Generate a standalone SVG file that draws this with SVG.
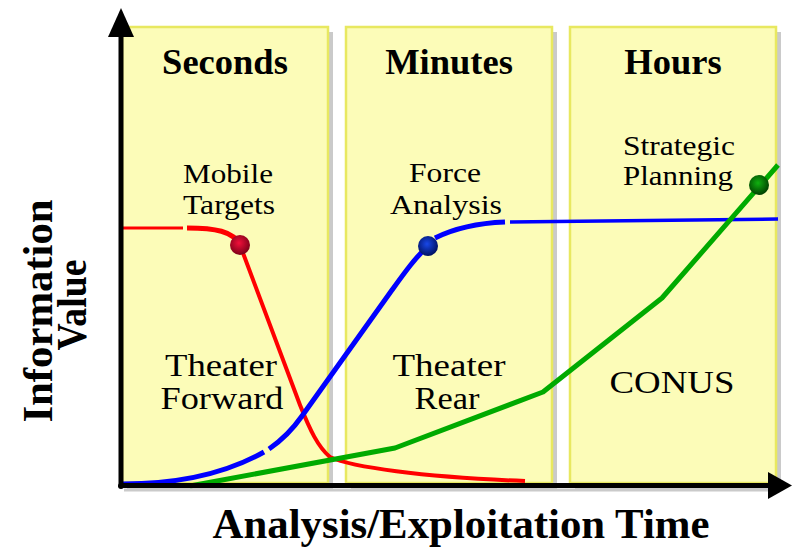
<svg xmlns="http://www.w3.org/2000/svg" width="792" height="548" viewBox="0 0 792 548">
<style>
.panel{fill:#FCFCB8;stroke:#E8E860;stroke-width:2.5}
.shadow{fill:#CACACA}
.head{font-family:"Liberation Serif","Times New Roman",serif;font-weight:bold;font-size:36.5px;text-anchor:middle;fill:#000}
.lbl{font-family:"Liberation Serif","Times New Roman",serif;font-size:28px;text-anchor:middle;fill:#000}
.big{font-family:"Liberation Serif","Times New Roman",serif;font-size:31px;text-anchor:middle;fill:#000}
.axis{font-family:"Liberation Serif","Times New Roman",serif;font-weight:bold;font-size:42px;text-anchor:middle;fill:#000}
.curve{fill:none;stroke-linecap:butt;stroke-linejoin:round}
</style>
<defs>
<radialGradient id="gr" cx="45%" cy="40%" r="60%"><stop offset="0" stop-color="#F0103A"/><stop offset="1" stop-color="#7A0018"/></radialGradient>
<radialGradient id="gb" cx="45%" cy="40%" r="60%"><stop offset="0" stop-color="#1848E8"/><stop offset="1" stop-color="#001060"/></radialGradient>
<radialGradient id="gg" cx="45%" cy="40%" r="60%"><stop offset="0" stop-color="#10B010"/><stop offset="1" stop-color="#004000"/></radialGradient>
</defs>
<rect width="792" height="548" fill="#fff"/>
<g id="panel-seconds">
<rect class="shadow" x="127" y="32" width="206" height="457"/>
<rect class="panel" x="122" y="27" width="206" height="456"/>
<text class="head" x="225" y="74">Seconds</text>
</g>
<g id="panel-minutes">
<rect class="shadow" x="351" y="32" width="206" height="457"/>
<rect class="panel" x="346" y="27" width="206" height="456"/>
<text class="head" x="449" y="74">Minutes</text>
</g>
<g id="panel-hours">
<rect class="shadow" x="575" y="32" width="206" height="457"/>
<rect class="panel" x="570" y="27" width="206" height="456"/>
<text class="head" x="673" y="74">Hours</text>
</g>
<g id="labels">
<text class="lbl" x="228" y="183" textLength="90" lengthAdjust="spacingAndGlyphs">Mobile</text>
<text class="lbl" x="229" y="214" textLength="92" lengthAdjust="spacingAndGlyphs">Targets</text>
<text class="lbl" x="445" y="182" textLength="72" lengthAdjust="spacingAndGlyphs">Force</text>
<text class="lbl" x="446" y="214" textLength="112" lengthAdjust="spacingAndGlyphs">Analysis</text>
<text class="lbl" x="679" y="155" textLength="112" lengthAdjust="spacingAndGlyphs">Strategic</text>
<text class="lbl" x="678" y="185" textLength="110" lengthAdjust="spacingAndGlyphs">Planning</text>
<text class="big" x="221" y="376" textLength="112" lengthAdjust="spacingAndGlyphs">Theater</text>
<text class="big" x="222" y="409" textLength="123" lengthAdjust="spacingAndGlyphs">Forward</text>
<text class="big" x="449" y="376" textLength="113" lengthAdjust="spacingAndGlyphs">Theater</text>
<text class="big" x="447" y="409" textLength="65" lengthAdjust="spacingAndGlyphs">Rear</text>
<text class="big" x="672" y="393" textLength="125" lengthAdjust="spacingAndGlyphs">CONUS</text>
</g>
<g id="connectors">
<path class="curve" d="M122,228 L183,228" stroke="#FF0000" stroke-width="3"/>
<path class="curve" d="M187,228 C215,228 233,231 240,245" stroke="#FF0000" stroke-width="5"/>
<path class="curve" d="M240,245 L300,405 C310,430 318,447 330,457 C352,467 420,477 525,481" stroke="#FF0000" stroke-width="4"/>
<path class="curve" d="M122,484 C180,484 225,474 264,452" stroke="#0000FF" stroke-width="5"/>
<path class="curve" d="M269,449 C285,438 295,426 302,416 L392,290 C405,272 415,258 428,246" stroke="#0000FF" stroke-width="5"/>
<path class="curve" d="M435,238 C455,228 480,223 505,222" stroke="#0000FF" stroke-width="5"/>
<path class="curve" d="M510,222 L778,219" stroke="#0000FF" stroke-width="3.5"/>
<path class="curve" d="M190,486 L395,448 L543,392 L662,298 L778,165" stroke="#00AA00" stroke-width="5"/>
<circle id="dot-red" cx="240" cy="245" r="10" fill="url(#gr)"/>
<circle id="dot-blue" cx="428" cy="246" r="10" fill="url(#gb)"/>
<circle id="dot-green" cx="759" cy="185" r="10" fill="url(#gg)"/>
</g>
<g id="axes">
<line x1="124" y1="490" x2="772" y2="490" stroke="#CACACA" stroke-width="3"/>
<line x1="121" y1="487" x2="121" y2="34" stroke="#000" stroke-width="5"/>
<polygon points="121,8 108,37 134,37" fill="#000"/>
<line x1="119" y1="485.5" x2="772" y2="485.5" stroke="#000" stroke-width="5"/>
<polygon points="792,485.5 768,472 768,499" fill="#000"/>
<circle cx="121" cy="486" r="3" fill="#000"/>
</g>
<g id="axis-titles">
<text class="axis" x="461" y="538" textLength="497" lengthAdjust="spacingAndGlyphs">Analysis/Exploitation Time</text>
<text class="axis" transform="translate(52,311) rotate(-90)" textLength="223" lengthAdjust="spacingAndGlyphs">Information</text>
<text class="axis" transform="translate(86,305) rotate(-90)" textLength="91" lengthAdjust="spacingAndGlyphs">Value</text>
</g>
</svg>
